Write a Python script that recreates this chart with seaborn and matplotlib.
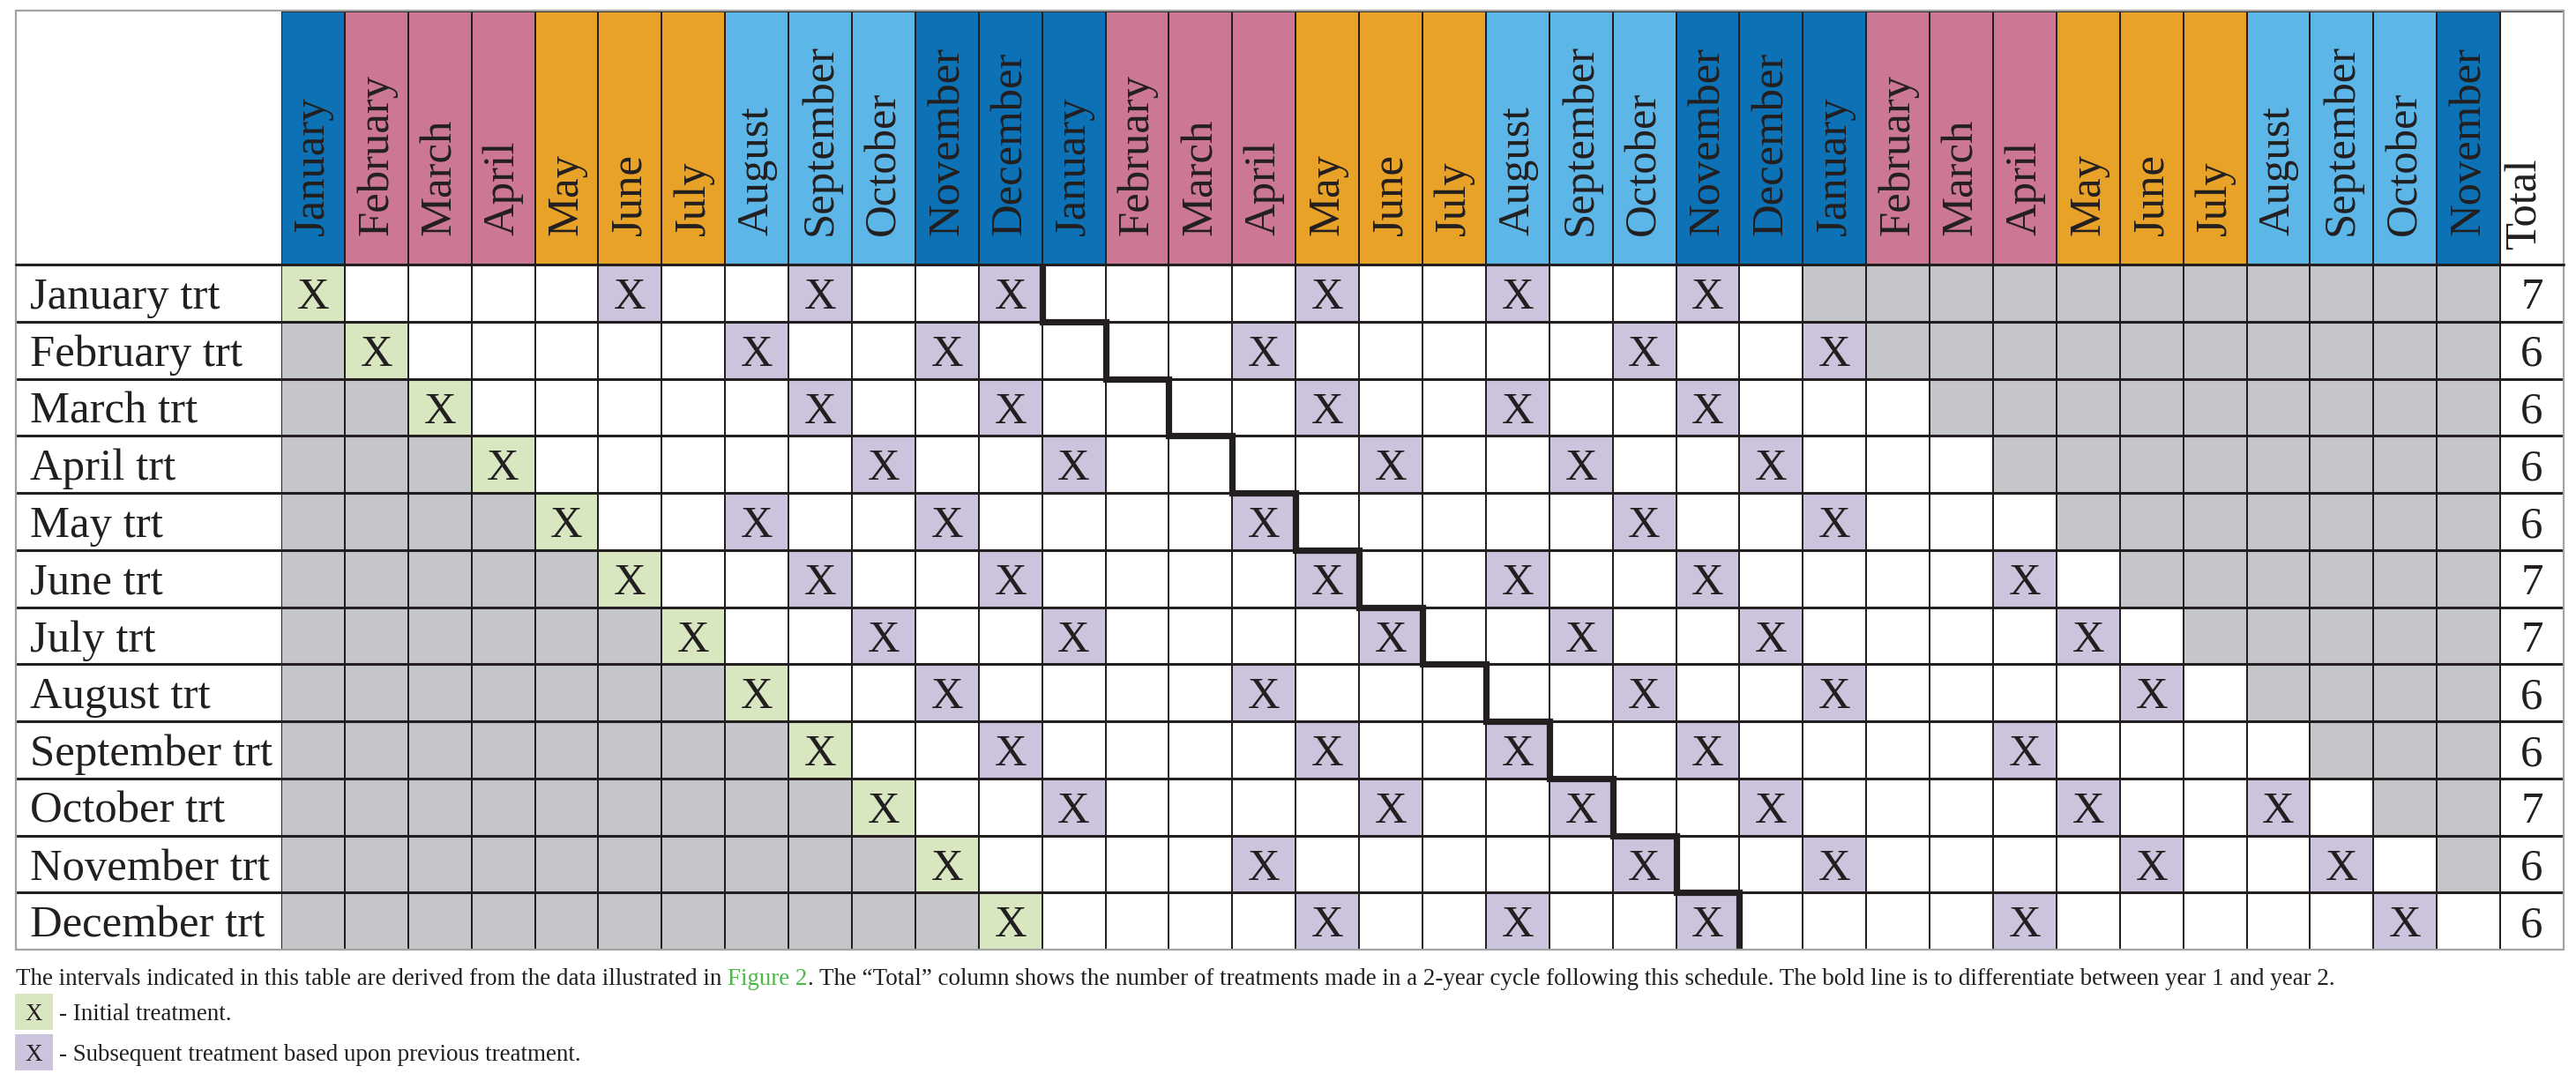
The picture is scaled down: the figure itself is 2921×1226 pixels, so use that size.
import matplotlib
matplotlib.use('Agg')
import numpy as np
import matplotlib.pyplot as plt
from matplotlib.colors import ListedColormap
from matplotlib.patches import Rectangle
import seaborn as sns

# --- datos ---
meses = ['January', 'February', 'March', 'April', 'May', 'June', 'July',
         'August', 'September', 'October', 'November', 'December']
# 35 meses en la cabecera: año 1, año 2 y enero-noviembre del año 3
columnas = meses + meses + meses[:11]
# grupo de color de cada mes en la cabecera
grupo_mes = [0, 1, 1, 1, 2, 2, 2, 3, 3, 3, 0, 0]

filas = ['January trt', 'February trt', 'March trt', 'April trt', 'May trt', 'June trt',
         'July trt', 'August trt', 'September trt', 'October trt', 'November trt', 'December trt']

# g = fuera del ciclo, i = tratamiento inicial, s = tratamiento posterior, . = nada
calendario = [
    'i....s..s..s' '....s..s..s.' 'ggggggggggg',
    'gi.....s..s.' '...s.....s..' 'sgggggggggg',
    'ggi.....s..s' '....s..s..s.' '..ggggggggg',
    'gggi.....s..' 's....s..s..s' '...gggggggg',
    'ggggi..s..s.' '...s.....s..' 's...ggggggg',
    'gggggi..s..s' '....s..s..s.' '...s.gggggg',
    'ggggggi..s..' 's....s..s..s' '....s.ggggg',
    'gggggggi..s.' '...s.....s..' 's....s.gggg',
    'ggggggggi..s' '....s..s..s.' '...s....ggg',
    'gggggggggi..' 's....s..s..s' '....s..s.gg',
    'ggggggggggi.' '...s.....s..' 's....s..s.g',
    'gggggggggggi' '....s..s..s.' '...s.....s.',
]
totales = [7, 6, 6, 6, 6, 7, 7, 6, 6, 7, 6, 6]

caption = ['The intervals indicated in this table are derived from the data illustrated in ',
           'Figure 2',
           '. The \u201cTotal\u201d column shows the number of treatments made in a 2-year cycle '
           'following this schedule. The bold line is to differentiate between year 1 and year 2.']
leyenda = ['- Initial treatment.', '- Subsequent treatment based upon previous treatment.']

# --- estilos ---
sns.set_style('white')
plt.rcParams['font.family'] = ['Liberation Serif', 'DejaVu Serif']

col_cabecera = ['#0c72b5', '#cc7894', '#e8a227', '#5cb6e8', '#ffffff']
col_celdas = ['#ffffff', '#c5c6ca', '#d8e7c0', '#ccc3dd']
negro = '#231f20'
gris_borde = '#a3a3a3'
fs_tabla = 36.5

W, H = 2921, 1226
fig = plt.figure(figsize=(W / 100, H / 100), dpi=100)

# posiciones en pixeles de la tabla
x_izq, x_lab, x_der = 18, 319, 2907
y_top, y_cab, y_bot = 13, 300, 1077
ncol = len(columnas) + 1
col_px = (x_der - x_lab) / ncol


def eje(x0, y0, x1, y1):
    return fig.add_axes([x0 / W, 1 - y1 / H, (x1 - x0) / W, (y1 - y0) / H])


# --- cuerpo de la tabla ---
codigo = {'.': 0, 'g': 1, 'i': 2, 's': 3}
matriz = np.array([[codigo[c] for c in fila] + [0] for fila in calendario])
anotaciones = np.array([['X' if c in 'is' else '' for c in fila] + [str(t)]
                        for fila, t in zip(calendario, totales)])

ax = eje(x_lab, y_cab, x_der, y_bot)
sns.heatmap(matriz, ax=ax, cmap=ListedColormap(col_celdas), vmin=-0.5, vmax=3.5,
            cbar=False, linewidths=1.3, linecolor=negro, annot=anotaciones, fmt='',
            annot_kws={'fontsize': fs_tabla, 'color': negro, 'va': 'center_baseline'},
            xticklabels=False, yticklabels=False)

ancho_lab = (x_lab - x_izq) / col_px
ax.hlines(np.arange(0, len(filas)), -ancho_lab, ncol, color=negro, lw=2.2, clip_on=False)
for r, nombre in enumerate(filas):
    ax.text(-(x_lab - 34) / col_px, r + 0.5, nombre, ha='left', va='center_baseline',
            fontsize=fs_tabla, color=negro, clip_on=False)

# linea gruesa entre año 1 y año 2 (un año despues del tratamiento inicial)
corte = [fila.index('i') + 12 for fila in calendario]
xs, ys = [], []
for r, c in enumerate(corte):
    xs += [c, c]
    ys += [r, r + 1]
ax.plot(xs, ys, color=negro, lw=5.2, solid_joinstyle='miter', solid_capstyle='butt',
        clip_on=False, zorder=5)

# --- cabecera ---
axh = eje(x_lab, y_top, x_der, y_cab)
codigos_cab = np.array([[grupo_mes[meses.index(m)] for m in columnas] + [4]])
sns.heatmap(codigos_cab, ax=axh, cmap=ListedColormap(col_cabecera), vmin=-0.5, vmax=4.5,
            cbar=False, linewidths=1.3, linecolor=negro,
            xticklabels=False, yticklabels=False)
y_txt = (267 - y_top) / (y_cab - y_top)
for j, m in enumerate(columnas):
    axh.text(j + 0.5, y_txt, m, rotation=90, ha='center', va='bottom',
             fontsize=fs_tabla, color=negro)
axh.text(ncol - 0.6, (283 - y_top) / (y_cab - y_top), 'Total', rotation=90,
         ha='center', va='bottom', fontsize=fs_tabla, color=negro)

# --- capa de bordes, pie y leyenda ---
axo = fig.add_axes([0, 0, 1, 1], zorder=10)
axo.set_xlim(0, W)
axo.set_ylim(H, 0)
axo.axis('off')
axo.add_patch(Rectangle((x_izq, y_top - 1), x_der - x_izq, y_bot - y_top + 1,
                        fill=False, ec=gris_borde, lw=1.6))
axo.plot([x_izq, x_der], [y_cab, y_cab], color=negro, lw=2.2)

# pie de tabla ajustado al ancho del original
renderer = fig.canvas.get_renderer()
fs_pie = 18
prueba = axo.text(0, 0, ''.join(caption), fontsize=fs_pie)
ancho = prueba.get_window_extent(renderer).width
prueba.remove()
fs_pie = fs_pie * (2651 - x_izq) / ancho

x = x_izq
for parte, color in zip(caption, [negro, '#4db848', negro]):
    t = axo.text(x, 1117, parte, fontsize=fs_pie, color=color, va='baseline')
    x = t.get_window_extent(renderer).x1

for k, (texto, color) in enumerate(zip(leyenda, col_celdas[2:])):
    y0 = 1127 + k * 46
    axo.add_patch(Rectangle((17, y0), 43, 41, fc=color, ec='none'))
    axo.text(38.5, y0 + 20.5, 'X', ha='center', va='center_baseline', fontsize=fs_pie, color=negro)
    axo.text(67, y0 + 20.5, texto, ha='left', va='center_baseline', fontsize=fs_pie, color=negro)

fig.savefig('out.png', dpi=100)
